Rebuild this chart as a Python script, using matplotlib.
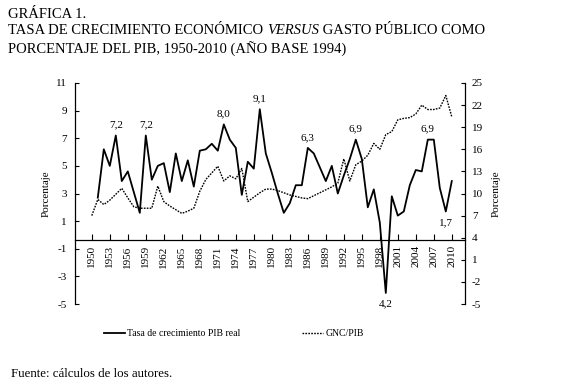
import matplotlib
matplotlib.use("Agg")
import matplotlib.pyplot as plt
from matplotlib.lines import Line2D

plt.rcParams["font.family"] = ["Liberation Serif", "DejaVu Serif"]

# Tasa de crecimiento PIB real (eje izquierdo), 1951-2010
anios_pib = list(range(1951, 2011))
crecimiento = [2.7, 6.2, 5.0, 7.2, 3.9, 4.6, 3.1, 1.6, 7.2, 4.0,
               5.0, 5.2, 3.1, 5.9, 3.9, 5.4, 3.5, 6.1, 6.2, 6.6,
               6.1, 8.0, 6.9, 6.3, 2.9, 5.3, 4.8, 9.1, 5.9, 4.5,
               3.0, 1.6, 2.3, 3.6, 3.6, 6.3, 5.9, 4.9, 3.9, 5.0,
               3.0, 4.3, 5.5, 6.9, 5.5, 2.0, 3.3, 0.9, -4.2, 2.8,
               1.4, 1.7, 3.6, 4.7, 4.6, 6.9, 6.9, 3.4, 1.7, 3.9]

# GNC/PIB (eje derecho), 1950-2010
anios_gnc = list(range(1950, 2011))
gnc_pib = [7.0, 9.2, 8.5, 9.1, 9.9, 10.7, 9.4, 8.2, 8.0, 8.0,
           8.0, 11.0, 8.9, 8.3, 7.8, 7.3, 7.6, 8.0, 10.3, 11.9,
           12.8, 13.7, 11.7, 12.4, 12.0, 13.4, 8.9, 9.5, 10.1, 10.6,
           10.6, 10.4, 10.1, 9.8, 9.6, 9.4, 9.3, 9.7, 10.1, 10.5,
           10.9, 11.4, 14.7, 11.7, 13.9, 14.4, 15.2, 16.8, 16.0, 18.0,
           18.4, 20.0, 20.2, 20.3, 20.8, 22.0, 21.4, 21.4, 21.6, 23.3,
           20.4]

# etiquetas sobre la serie de crecimiento
etiq_anios = [1954, 1959, 1972, 1978, 1986, 1994, 1999, 2006, 2009]
etiq_textos = ["7,2", "7,2", "8,0", "9,1", "6,3", "6,9", "4,2", "6,9", "1,7"]
etiq_abajo = [False, False, False, False, False, False, True, False, True]

x_ticks = list(range(1950, 2011, 3))
y_izq = list(range(-5, 12, 2))
y_der = list(range(-5, 26, 3))

fig = plt.figure(figsize=(5.75, 3.9), dpi=100)
ax = fig.add_axes([75 / 575, 1 - 304 / 390, 390 / 575, 221 / 390])
ax2 = ax.twinx()

ax.plot(anios_pib, crecimiento, color="black", lw=1.3, zorder=3)
ax2.plot(anios_gnc, gnc_pib, color="black", lw=1.0, linestyle=(0, (1.2, 0.9)))

ax.set_xlim(1947.2, 2012.2)
ax.set_ylim(-5, 11)
ax2.set_ylim(-5, 25)

ax.set_yticks(y_izq)
ax.set_yticklabels([str(v) for v in y_izq])
ax2.set_yticks(y_der)
ax2.set_yticklabels([str(v) for v in y_der])
ax.set_xticks(x_ticks)
ax.set_xticklabels([str(v) for v in x_ticks])

for a in (ax, ax2):
    a.spines["top"].set_visible(False)
    a.patch.set_visible(False)
ax.spines["right"].set_visible(False)
ax2.spines["left"].set_visible(False)
ax2.spines["bottom"].set_visible(False)
ax.spines["bottom"].set_position(("data", -0.35))
for s in ("left", "bottom"):
    ax.spines[s].set_linewidth(0.9)
ax2.spines["right"].set_linewidth(0.9)

ax.tick_params(axis="y", direction="in", length=3, width=0.8, labelsize=8, pad=6)
ax2.tick_params(axis="y", direction="in", length=3, width=0.8, labelsize=8, pad=5)
ax.tick_params(axis="x", direction="in", length=4.5, width=0.8, labelsize=8,
               pad=4, labelrotation=90)

ax.set_ylabel("Porcentaje", fontsize=8, labelpad=4)
ax2.set_ylabel("Porcentaje", fontsize=8, labelpad=6)

for anio, txt, abajo in zip(etiq_anios, etiq_textos, etiq_abajo):
    val = crecimiento[anios_pib.index(anio)]
    ax.annotate(txt, (anio, val), textcoords="offset points",
                xytext=(0, -8 if abajo else 7.5), ha="center", va="center",
                fontsize=8)

# leyenda
handles = [Line2D([], [], color="black", lw=1.3),
           Line2D([], [], color="black", lw=1.0, linestyle=(0, (1.2, 0.9)))]
fig.legend(handles, ["Tasa de crecimiento PIB real", "GNC/PIB"],
           loc="center", bbox_to_anchor=(234 / 575, 1 - 334 / 390),
           ncol=2, frameon=False, fontsize=7, handlelength=2.1,
           handletextpad=0.3, columnspacing=6.3)

# titulo con VERSUS en cursiva
fig.text(8 / 575, 1 - 14 / 390, "GRÁFICA 1.", fontsize=10.5, va="center")
r = fig.canvas.get_renderer()
y2 = 1 - 31 / 390
t1 = fig.text(8 / 575, y2, "TASA DE CRECIMIENTO ECONÓMICO ", fontsize=10.5, va="center")
x_px = t1.get_window_extent(r).x1
t2 = fig.text(x_px / 575, y2, "VERSUS", fontsize=10.5, va="center", style="italic")
x_px = t2.get_window_extent(r).x1
fig.text(x_px / 575, y2, " GASTO PÚBLICO COMO", fontsize=10.5, va="center")
fig.text(8 / 575, 1 - 49 / 390, "PORCENTAJE DEL PIB, 1950-2010 (AÑO BASE 1994)",
         fontsize=10.5, va="center")

fig.text(11 / 575, 1 - 374 / 390, "Fuente: cálculos de los autores.", fontsize=9.3, va="center")

fig.savefig("out.png", dpi=100)
